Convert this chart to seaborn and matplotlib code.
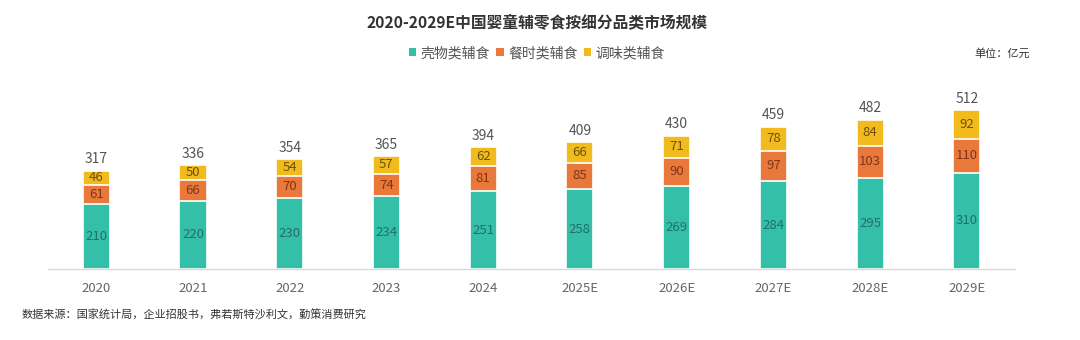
import numpy as np
import pandas as pd
import matplotlib
matplotlib.use("Agg")
import matplotlib.pyplot as plt
import seaborn as sns
from matplotlib.patches import Patch

years = ["2020", "2021", "2022", "2023", "2024", "2025E", "2026E", "2027E", "2028E", "2029E"]
grain = [210, 220, 230, 234, 251, 258, 269, 284, 295, 310]
meal = [61, 66, 70, 74, 81, 85, 90, 97, 103, 110]
season = [46, 50, 54, 57, 62, 66, 71, 78, 84, 92]
totals = [317, 336, 354, 365, 394, 409, 430, 459, 482, 512]
series_names = ["壳物类辅食", "餐时类辅食", "调味类辅食"]

sns.set_theme(style="white")
plt.rcParams['font.family'] = ['Noto Sans CJK SC', 'DejaVu Sans']

c_teal = "#34BFA9"
c_orange = "#E8793A"
c_yellow = "#F1BB1E"

df = pd.DataFrame({"year": years, "grain": grain, "meal": meal, "season": season})
df["cum2"] = df["grain"] + df["meal"]
df["cum3"] = df["cum2"] + df["season"]

fig = plt.figure(figsize=(10.8, 3.4), dpi=100)
ax = fig.add_axes([0.0444, 0.2088, 0.8956, 0.556])

w = 0.28
sns.barplot(data=df, x="year", y="cum3", color=c_yellow, width=w, saturation=1,
            edgecolor="white", linewidth=1.2, ax=ax)
sns.barplot(data=df, x="year", y="cum2", color=c_orange, width=w, saturation=1,
            edgecolor="white", linewidth=1.2, ax=ax)
sns.barplot(data=df, x="year", y="grain", color=c_teal, width=w, saturation=1,
            edgecolor="white", linewidth=1.2, ax=ax)

for i in range(len(years)):
    g, m, s = grain[i], meal[i], season[i]
    ax.text(i, g / 2, str(g), ha="center", va="center", fontsize=9.5, color="#22706A")
    ax.text(i, g + m / 2, str(m), ha="center", va="center", fontsize=9.5, color="#80351A")
    ax.text(i, g + m + s / 2, str(s), ha="center", va="center", fontsize=9.5, color="#6E500E")
    ax.text(i, g + m + s + 14, str(totals[i]), ha="center", va="bottom", fontsize=10, color="#555555")

ax.set_xlim(-0.5, len(years) - 0.5)
ax.set_ylim(0, 610)
ax.set_xlabel("")
ax.set_ylabel("")
ax.set_yticks([])
for sp in ["top", "right", "left"]:
    ax.spines[sp].set_visible(False)
ax.spines["bottom"].set_color("#D9D9D9")
ax.spines["bottom"].set_linewidth(1)
ax.tick_params(axis="x", length=0, pad=9, labelsize=9.5, labelcolor="#666666")

fig.text(0.497, 1 - 22 / 340, "2020-2029E中国婴童辅零食按细分品类市场规模", ha="center", va="center",
         fontsize=11.3, fontweight="bold", color="#333333")

handles = [Patch(facecolor=c, edgecolor="none") for c in [c_teal, c_orange, c_yellow]]
fig.legend(handles, series_names, loc="center", bbox_to_anchor=(0.497, 1 - 53 / 340), ncol=3,
           frameon=False, fontsize=10, handlelength=0.55, handleheight=0.55, handletextpad=0.3,
           columnspacing=0.45, labelcolor="#555555")

fig.text(0.954, 1 - 53 / 340, "单位：亿元", ha="right", va="center", fontsize=8, color="#333333")
fig.text(0.02, 1 - 315 / 340, "数据来源：国家统计局，企业招股书，弗若斯特沙利文，勤策消费研究", ha="left", va="center",
         fontsize=8, color="#333333")

fig.savefig("out.png", dpi=100, facecolor="white")
